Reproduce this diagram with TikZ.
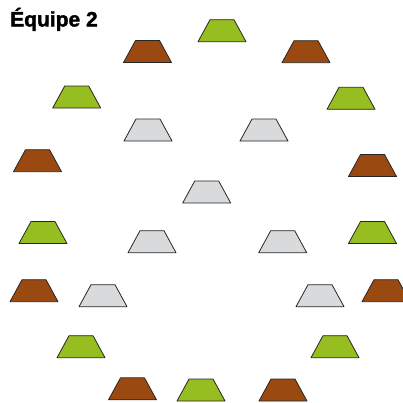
\documentclass[tikz,border=0pt]{standalone}
\usepackage{fontspec}
\newfontfamily\titlefont{Liberation Sans}[BoldFeatures={FakeBold=1.6}]
\definecolor{PieceGreen}{RGB}{151,190,32}
\definecolor{PieceBrown}{RGB}{154,74,16}
\definecolor{PieceGray}{RGB}{217,218,220}
\tikzset{
  % pezzo trapezoidale (base 48, lato alto 24, altezza 22)
  piece/.pic={
    \draw[pic actions] (-24pt,-11pt) -- (24pt,-11pt) -- (12pt,11pt) -- (-12pt,11pt) -- cycle;
    \coordinate (-c) at (0pt,0pt);
  },
  piece line/.style={draw=black!85,line width=0.8pt,line join=round},
  piece green/.style={piece line,fill=PieceGreen},
  piece brown/.style={piece line,fill=PieceBrown},
  piece gray/.style={piece line,fill=PieceGray},
  title/.style={font=\titlefont\bfseries\fontsize{21}{24}\selectfont,inner sep=0pt,anchor=base west}
}
\begin{document}
\begin{tikzpicture}[x=1pt,y=-1pt]
    \useasboundingbox (0,0) rectangle (403,402);
    \node[title] (titolo) at (10,26.5) {Équipe 2};
    % verdi
    \foreach \nome/\px/\py in {g1/222/30.7, g2/76.7/97, g3/351/98.3, g4/43/232.5,
      g5/372.5/232.5, g6/81/346.7, g7/335/346.7, g8/201/390}
      \pic[piece green] (\nome) at (\px,\py) {piece};
    % marroni
    \foreach \nome/\px/\py in {b1/147.5/51.5, b2/306/51.7, b3/37.5/160.7, b4/372.5/165.5,
      b5/34/290.7, b6/386/290.7, b7/132.5/388.8, b8/283/390}
      \pic[piece brown] (\nome) at (\px,\py) {piece};
    % grigi
    \foreach \nome/\px/\py in {w1/148/130, w2/264/130, w3/206.7/192, w4/152/241.7,
      w5/282.7/241.7, w6/103/295.7, w7/320/295.7}
      \pic[piece gray] (\nome) at (\px,\py) {piece};
  \end{tikzpicture}
\end{document}
